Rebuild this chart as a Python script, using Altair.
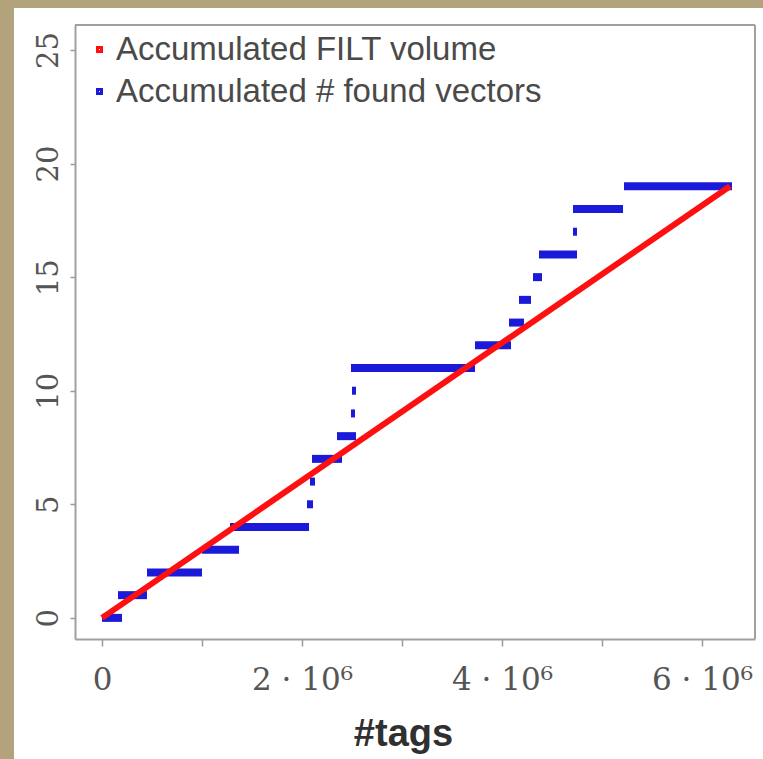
import altair as alt
import pandas as pd

# ---- data ----
series_names = ["Accumulated FILT volume", "Accumulated # found vectors"]
series_colors = ["#ff1010", "#1a1ad8"]

# red series: accumulated FILT volume (straight line)
filt_tags = [0, 6.28e6]
filt_volume = [0, 19]

# blue series: accumulated number of found vectors (steps)
found_level = [0, 1, 2, 3, 4, 5, 6, 7, 8, 9, 10, 11, 12, 13, 14, 15, 16, 17, 18, 19]
found_start = [0.00e6, 0.16e6, 0.45e6, 1.00e6, 1.28e6, 2.05e6, 2.08e6, 2.10e6, 2.35e6, 2.49e6,
               2.50e6, 2.49e6, 3.73e6, 4.07e6, 4.17e6, 4.31e6, 4.37e6, 4.71e6, 4.71e6, 5.22e6]
found_end = [0.20e6, 0.45e6, 1.00e6, 1.37e6, 2.07e6, 2.11e6, 2.13e6, 2.40e6, 2.54e6, 2.53e6,
             2.54e6, 3.73e6, 4.09e6, 4.22e6, 4.29e6, 4.40e6, 4.75e6, 4.75e6, 5.21e6, 6.30e6]

x_tick_values = [0, 1e6, 2e6, 3e6, 4e6, 5e6, 6e6]
x_tick_labels = ["0", "", "2 · 10⁶", "", "4 · 10⁶", "", "6 · 10⁶"]
y_tick_values = [0, 5, 10, 15, 20, 25]
x_title = "#tags"

# ---- tables ----
red_df = pd.DataFrame({"tags": filt_tags, "value": filt_volume, "series": series_names[0]})
blue_df = pd.DataFrame({"start": found_start, "end": found_end, "value": found_level,
                        "series": series_names[1]})

label_expr = "''"
for v, t in reversed(list(zip(x_tick_values, x_tick_labels))):
    label_expr = f"(datum.value == {int(v)}) ? '{t}' : ({label_expr})"

W, H = 680, 614
x_scale = alt.Scale(domain=[-0.27e6, 6.53e6], nice=False, zero=False)
y_scale = alt.Scale(domain=[-0.93, 26.1], nice=False, zero=False)
color_scale = alt.Scale(domain=series_names, range=series_colors)

frame_color = "#a0a0a0"

x_axis = alt.Axis(values=x_tick_values, labelExpr=label_expr, title=x_title, grid=False,
                  labelFont="DejaVu Serif", labelFontSize=31, labelColor="#555555",
                  labelPadding=19, tickSize=7, tickColor="#9a9a9a", tickWidth=1.5,
                  domainColor=frame_color, domainWidth=2,
                  titleFont="Liberation Sans", titleFontSize=38, titleFontWeight="bold",
                  titleColor="#303030", titlePadding=20, titleX=328, titleAlign="center",
                  labelFlush=False, zindex=2)
y_axis = alt.Axis(values=y_tick_values, title=None, grid=False,
                  labelFont="DejaVu Serif", labelFontSize=29, labelColor="#555555",
                  labelAngle=270, labelAlign="center", labelBaseline="middle",
                  labelPadding=22, tickSize=5, tickColor="#9a9a9a", tickWidth=1.5,
                  domainColor=frame_color, domainWidth=2, labelFlush=False, zindex=2)

legend = alt.Legend(title=None, orient="top-left", offset=6, padding=2,
                    symbolType="square", symbolSize=16, symbolStrokeWidth=3,
                    labelFont="Liberation Sans", labelFontSize=33, labelColor="#4a4a4a",
                    labelOffset=0, rowPadding=8, labelLimit=0)

one = pd.DataFrame({"k": [0]})
bg = alt.Chart(one).mark_rect(color="white", clip=False).encode(
    x=alt.value(-61), x2=alt.value(700), y=alt.value(-17), y2=alt.value(740))
frame_top = alt.Chart(one).mark_rule(color=frame_color, strokeWidth=2).encode(
    x=alt.value(0), x2=alt.value(W), y=alt.value(0))
frame_right = alt.Chart(one).mark_rule(color=frame_color, strokeWidth=2).encode(
    x=alt.value(W), y=alt.value(0), y2=alt.value(H))

blue = alt.Chart(blue_df).mark_rule(strokeWidth=8, strokeCap="butt").encode(
    x=alt.X("start:Q", scale=x_scale, axis=x_axis),
    x2="end:Q",
    y=alt.Y("value:Q", scale=y_scale, axis=y_axis),
    color=alt.Color("series:N", scale=color_scale, legend=legend),
)

red = alt.Chart(red_df).mark_line(strokeWidth=6, strokeCap="butt").encode(
    x=alt.X("tags:Q", scale=x_scale, axis=x_axis),
    y=alt.Y("value:Q", scale=y_scale, axis=y_axis),
    color=alt.Color("series:N", scale=color_scale, legend=legend),
)

chart = alt.layer(bg, frame_top, frame_right, blue, red).properties(
    width=W, height=H,
    autosize=alt.AutoSizeParams(type="none"),
    padding={"left": 75, "top": 25, "right": 8, "bottom": 120},
    background="#b3a37d",
).configure_view(stroke=None)

chart.save("out.html", embed_options={"renderer": "svg", "actions": False})
